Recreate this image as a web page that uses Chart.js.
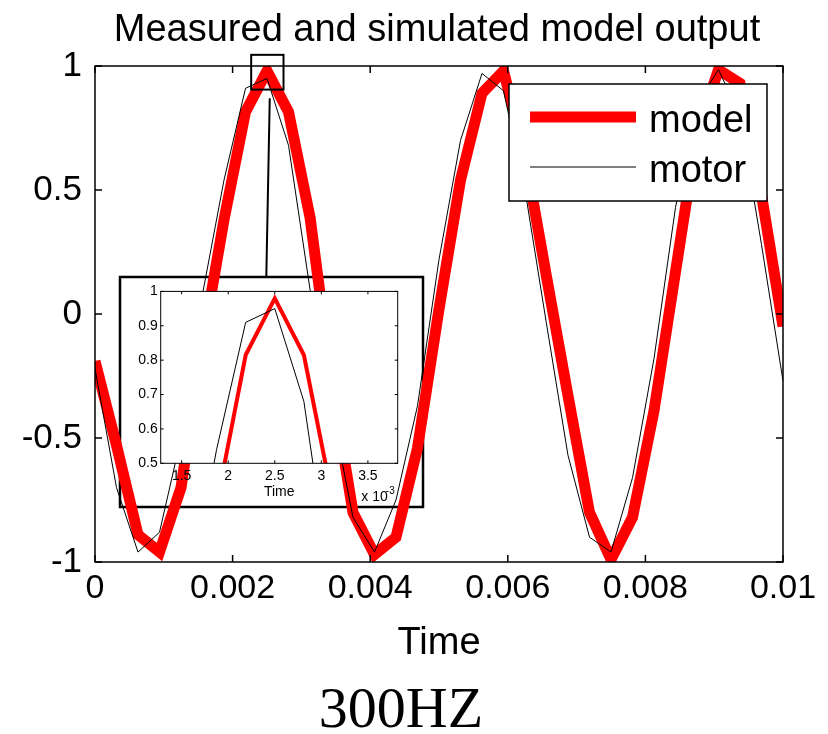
<!DOCTYPE html>
<html>
<head>
<meta charset="utf-8">
<script src="https://cdn.jsdelivr.net/npm/chart.js@4"></script>
<style>
  html, body { margin: 0; padding: 0; background: #fff; }
  #wrap { position: relative; width: 828px; height: 734px; }
  #main { position: absolute; left: 0; top: 0; }
  #inset { position: absolute; left: 120px; top: 280px; }
  #caption { position: absolute; left: 301px; top: 679px; width: 200px; text-align: center;
             font: 58px/58px "Liberation Serif", "Times New Roman", serif; color: #000; }
</style>
</head>
<body>
<div id="wrap">
  <canvas id="main" width="828" height="734"></canvas>
  <canvas id="inset" width="290" height="226"></canvas>
  <div id="caption">300HZ</div>
</div>
<script>
// sample times (s) and the two traces
const time = [0, 0.0003125, 0.000625, 0.0009375, 0.00125, 0.0015625, 0.001875, 0.0021875,
              0.0025, 0.0028125, 0.003125, 0.0034375, 0.00375, 0.0040625, 0.004375, 0.0046875,
              0.005, 0.0053125, 0.005625, 0.0059375, 0.00625, 0.0065625, 0.006875, 0.0071875,
              0.0075, 0.0078125, 0.008125, 0.0084375, 0.00875, 0.0090625, 0.009375, 0.0096875, 0.01];
const model = [-0.19, -0.53, -0.89, -0.96, -0.70, -0.12, 0.38, 0.815,
               0.98, 0.815, 0.39, -0.27, -0.80, -0.97, -0.90, -0.54,
               0.02, 0.54, 0.89, 0.98, 0.64, 0.15, -0.33, -0.80,
               -0.99, -0.82, -0.39, 0.17, 0.73, 0.985, 0.93, 0.48, -0.05];
const motor = [-0.22, -0.70, -0.96, -0.88, -0.50, 0.08, 0.54, 0.91,
               0.95, 0.68, 0.10, -0.38, -0.82, -0.96, -0.75, -0.37,
               0.22, 0.70, 0.97, 0.90, 0.50, -0.04, -0.57, -0.90,
               -0.96, -0.66, -0.18, 0.43, 0.85, 0.985, 0.80, 0.28, -0.27];

const xTicks = [0, 0.002, 0.004, 0.006, 0.008, 0.01];
const yTicks = [-1, -0.5, 0, 0.5, 1];
const insetXTicks = [0.0015, 0.002, 0.0025, 0.003, 0.0035];
const insetYTicks = [0.5, 0.6, 0.7, 0.8, 0.9, 1];

const titleText = 'Measured and simulated model output';

Chart.defaults.font.family = '"Liberation Sans", Arial, sans-serif';
Chart.defaults.color = '#000';

// decoration around the inset (figure pixels)
const insetFrame = { left: 120, top: 277, right: 423, bottom: 507 };
const zoomBox = { x0: 0.00227, x1: 0.00274, y0: 0.905, y1: 1.045 };

function points(ys) {
    return time.map((t, i) => ({ x: t, y: ys[i] }));
}

// MATLAB style box with ticks pointing inwards
function drawBox(chart, len, width) {
    const { ctx, chartArea: a, scales: { x, y } } = chart;
    ctx.save();
    ctx.strokeStyle = '#000';
    ctx.lineWidth = width;
    ctx.strokeRect(a.left, a.top, a.right - a.left, a.bottom - a.top);
    ctx.beginPath();
    x.ticks.forEach(t => {
        const px = x.getPixelForValue(t.value);
        ctx.moveTo(px, a.bottom); ctx.lineTo(px, a.bottom - len);
        ctx.moveTo(px, a.top); ctx.lineTo(px, a.top + len);
    });
    y.ticks.forEach(t => {
        const py = y.getPixelForValue(t.value);
        ctx.moveTo(a.left, py); ctx.lineTo(a.left + len, py);
        ctx.moveTo(a.right, py); ctx.lineTo(a.right - len, py);
    });
    ctx.stroke();
    ctx.restore();
}

const mainDecor = {
    id: 'mainDecor',
    beforeDatasetsDraw(chart) {
        const ctx = chart.ctx;
        ctx.save();
        ctx.strokeStyle = '#000';
        ctx.lineWidth = 2.5;
        ctx.strokeRect(insetFrame.left, insetFrame.top,
                       insetFrame.right - insetFrame.left, insetFrame.bottom - insetFrame.top);
        ctx.restore();
    },
    afterDatasetsDraw(chart) {
        const { ctx, scales: { x, y } } = chart;
        ctx.save();
        ctx.strokeStyle = '#000';
        ctx.lineWidth = 2;
        const bx0 = x.getPixelForValue(zoomBox.x0), bx1 = x.getPixelForValue(zoomBox.x1);
        const by0 = y.getPixelForValue(zoomBox.y1), by1 = y.getPixelForValue(zoomBox.y0);
        ctx.strokeRect(bx0, by0, bx1 - bx0, by1 - by0);
        ctx.beginPath();
        ctx.moveTo(x.getPixelForValue(0.00254), y.getPixelForValue(0.87));
        ctx.lineTo(x.getPixelForValue(0.00249), insetFrame.top);
        ctx.stroke();
        ctx.restore();
    },
    afterDraw(chart) {
        drawBox(chart, 7, 1.5);
        const { ctx, chartArea: a } = chart;
        ctx.save();
        // title, centred over the axes
        ctx.fillStyle = '#000';
        ctx.font = '38px "Liberation Sans", Arial, sans-serif';
        ctx.textAlign = 'center';
        ctx.textBaseline = 'alphabetic';
        ctx.fillText(titleText, (a.left + a.right) / 2 - 2, 41);
        // legend
        const lx = a.right - 274, ly = a.top + 18, lw = 258, lh = 117;
        ctx.textAlign = 'left';
        ctx.fillStyle = '#fff';
        ctx.fillRect(lx, ly, lw, lh);
        ctx.strokeStyle = '#000';
        ctx.lineWidth = 1.5;
        ctx.strokeRect(lx, ly, lw, lh);
        ctx.fillStyle = '#000';
        chart.data.datasets.forEach((ds, i) => {
            const yy = ly + 33 + i * 50;
            ctx.beginPath();
            ctx.strokeStyle = ds.borderColor;
            ctx.lineWidth = ds.borderWidth;
            ctx.moveTo(lx + 21, yy);
            ctx.lineTo(lx + 127, yy);
            ctx.stroke();
            ctx.fillText(ds.label, lx + 140, yy + 15);
        });
        ctx.restore();
    }
};

new Chart(document.getElementById('main'), {
    type: 'line',
    data: {
        datasets: [
            { label: 'model', data: points(model), borderColor: '#ff0000', borderWidth: 11, order: 2 },
            { label: 'motor', data: points(motor), borderColor: '#000000', borderWidth: 1, order: 1 }
        ]
    },
    options: {
        responsive: false,
        animation: false,
        clip: 0,
        elements: {
            point: { radius: 0 },
            line: { tension: 0, borderJoinStyle: 'miter', borderCapStyle: 'butt', fill: false }
        },
        layout: { padding: { top: 66, right: 45, bottom: 60, left: 0 } },
        plugins: {
            legend: { display: false },
            tooltip: { enabled: false },
            title: { display: false }
        },
        scales: {
            x: {
                type: 'linear', min: 0, max: 0.01,
                grid: { display: false, drawTicks: false },
                border: { display: false },
                ticks: { font: { size: 34 }, padding: 6, maxRotation: 0, callback: v => String(v) },
                afterBuildTicks: s => { s.ticks = xTicks.map(v => ({ value: v })); },
                afterFit: s => { s.height = 112; },
                title: { display: true, text: 'Time', font: { size: 38 }, padding: { top: 0, bottom: 7.7 } }
            },
            y: {
                type: 'linear', min: -1, max: 1,
                grid: { display: false, drawTicks: false },
                border: { display: false },
                ticks: { font: { size: 35 }, padding: 13, callback: v => String(v) },
                afterBuildTicks: s => { s.ticks = yTicks.map(v => ({ value: v })); },
                afterFit: s => { s.width = 95; }
            }
        }
    },
    plugins: [mainDecor]
});

const insetDecor = {
    id: 'insetDecor',
    beforeDraw(chart) {
        const { ctx, chartArea: a } = chart;
        ctx.save();
        ctx.fillStyle = '#fff';
        ctx.fillRect(a.left, a.top, a.right - a.left, a.bottom - a.top);
        ctx.restore();
    },
    afterDraw(chart) {
        drawBox(chart, 3, 1);
        const { ctx, chartArea: a } = chart;
        ctx.save();
        ctx.fillStyle = '#000';
        ctx.textBaseline = 'alphabetic';
        ctx.textAlign = 'right';
        ctx.font = '10px "Liberation Sans", Arial, sans-serif';
        ctx.fillText('-3', a.right - 3, a.bottom + 31);
        ctx.font = '14px "Liberation Sans", Arial, sans-serif';
        ctx.fillText('x 10', a.right - 10, a.bottom + 38);
        ctx.restore();
    }
};

new Chart(document.getElementById('inset'), {
    type: 'line',
    data: {
        datasets: [
            { label: 'model', data: points(model), borderColor: '#ff0000', borderWidth: 4, order: 2 },
            { label: 'motor', data: points(motor), borderColor: '#000000', borderWidth: 1, order: 1 }
        ]
    },
    options: {
        responsive: false,
        animation: false,
        clip: 0,
        elements: {
            point: { radius: 0 },
            line: { tension: 0, borderJoinStyle: 'miter', borderCapStyle: 'butt', fill: false }
        },
        layout: { padding: { top: 10.7, right: 12.3, bottom: 0, left: 0 } },
        plugins: { legend: { display: false }, tooltip: { enabled: false } },
        scales: {
            x: {
                type: 'linear', min: 0.001275, max: 0.00382,
                grid: { display: false, drawTicks: false },
                border: { display: false },
                ticks: { font: { size: 14 }, padding: 4, maxRotation: 0,
                         callback: v => String(+(v * 1000).toFixed(1)) },
                afterBuildTicks: s => { s.ticks = insetXTicks.map(v => ({ value: v })); },
                afterFit: s => { s.height = 42.7; },
                title: { display: true, text: 'Time', font: { size: 14 }, padding: { top: 0, bottom: 5.5 } }
            },
            y: {
                type: 'linear', min: 0.5, max: 1,
                grid: { display: false, drawTicks: false },
                border: { display: false },
                ticks: { font: { size: 14 }, padding: 3, callback: v => String(v) },
                afterBuildTicks: s => { s.ticks = insetYTicks.map(v => ({ value: v })); },
                afterFit: s => { s.width = 40.7; }
            }
        }
    },
    plugins: [insetDecor]
});
</script>
</body>
</html>
